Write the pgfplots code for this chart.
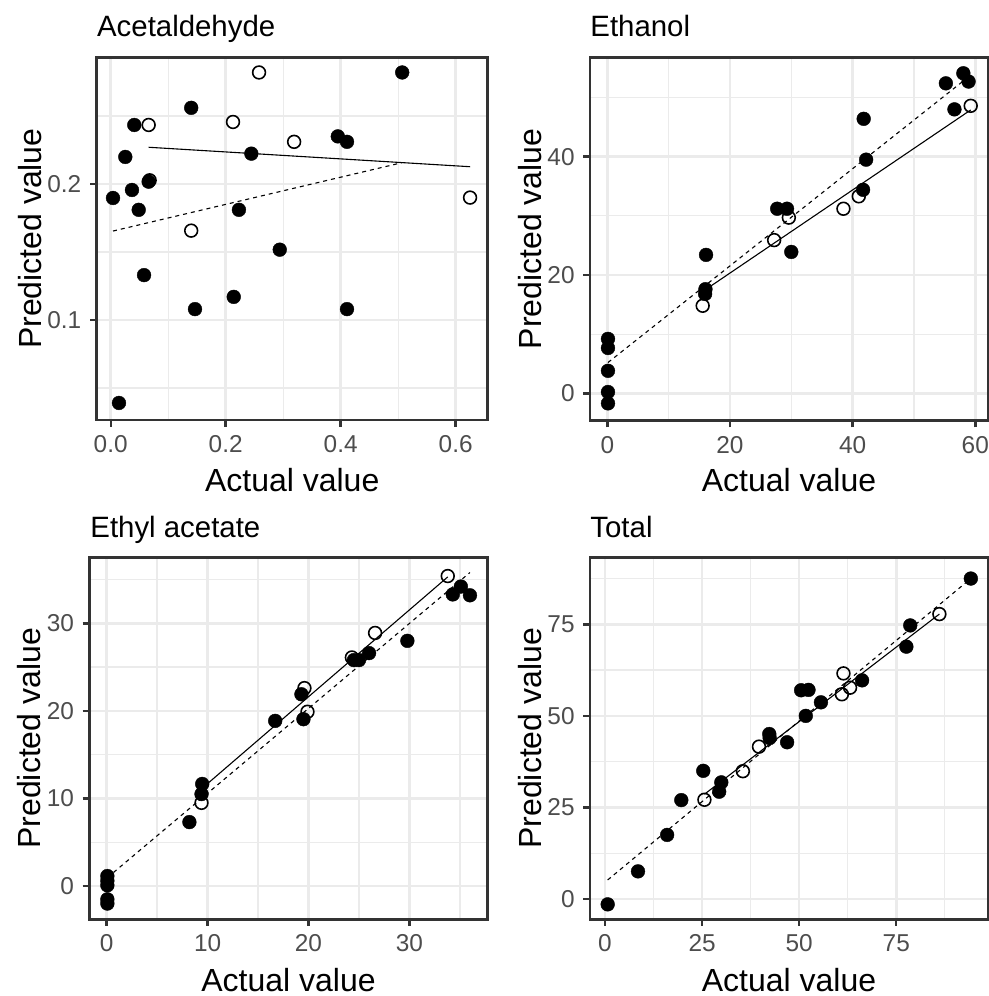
\documentclass[border=0pt]{standalone}
\usepackage{fontspec}
\setmainfont{Liberation Sans}
\usepackage{pgfplots}
\pgfplotsset{compat=1.18}

\definecolor{frame}{HTML}{333333}
\definecolor{gridc}{HTML}{EBEBEB}
\definecolor{tickc}{HTML}{4D4D4D}

\pgfplotsset{
  panel/.style={
    scale only axis,
    axis line style={draw=frame, line width=1.3pt},
    tick align=outside,
    major tick length=3.3pt,
    minor tick length=0pt,
    every tick/.style={draw=frame, line width=1.2pt},
    xtick pos=bottom, ytick pos=left,
    grid=both,
    major grid style={draw=gridc, line width=1.3pt},
    minor grid style={draw=gridc, line width=0.65pt},
    ticklabel style={font=\fontsize{12.2}{14}\selectfont, text=tickc, inner sep=0pt},
    xticklabel style={anchor=north},
    yticklabel style={anchor=east},
    xticklabel shift=4.2pt,
    yticklabel shift=4.2pt,
    /pgf/number format/assume math mode=true,
  },
  train/.style={only marks, mark=*, mark size=3.45pt, mark options={fill=black, draw=black, line width=0.2pt}},
  test/.style={only marks, mark=o, mark size=3.2pt, mark options={draw=black, line width=0.8pt}},
  fitA/.style={no marks, black, line width=0.55pt},
  fitB/.style={no marks, black, line width=0.55pt, dash pattern=on 2pt off 2pt},
}

\newcommand{\ttl}[1]{\fontsize{14.7}{17}\selectfont #1}
\newcommand{\lbl}[1]{\fontsize{16}{19}\selectfont #1}

\begin{document}
\begin{tikzpicture}
\useasboundingbox (0,0) rectangle (494.5pt,498pt);

% Acetaldehyde
\begin{axis}[panel, at={(48.35pt,288pt)}, anchor=south west,
  width=195.5pt, height=181.35pt,
  xmin=-0.02435, xmax=0.6557, ymin=0.02647, ymax=0.29316,
  xtick={0,0.2,0.4,0.6}, xticklabels={0.0,0.2,0.4,0.6},
  minor xtick={0.1,0.3,0.5},
  ytick={0.1,0.2}, yticklabels={0.1,0.2},
  minor ytick={0.05,0.15,0.25}]
\addplot[train] coordinates {
 (0.507,0.282) (0.140,0.256) (0.041,0.2434) (0.395,0.235) (0.411,0.231)
 (0.2446,0.2223) (0.0254,0.2199) (0.066,0.2017) (0.037,0.1956) (0.004,0.1897)
 (0.0487,0.181) (0.223,0.181) (0.294,0.1517) (0.058,0.133) (0.214,0.117)
 (0.1466,0.108) (0.411,0.108) (0.0144,0.039)};
\addplot[test] coordinates {
 (0.258,0.282) (0.066,0.2434) (0.2127,0.2456) (0.319,0.231) (0.0677,0.2027)
 (0.140,0.1657) (0.625,0.190)};
\addplot[fitA] coordinates {(0.066,0.227) (0.625,0.2127)};
\addplot[fitB] coordinates {(0.004,0.1654) (0.507,0.2157)};
\end{axis}

% Ethanol
\begin{axis}[panel, at={(295pt,287.65pt)}, anchor=south west,
  width=199.15pt, height=181.7pt,
  xmin=-2.82, xmax=62.12, ymin=-4.63, ymax=56.8,
  xtick={0,20,40,60}, minor xtick={10,30,50},
  ytick={0,20,40}, minor ytick={10,30,50}]
\addplot[train] coordinates {
 (58.05,54.1) (55.2,52.4) (58.9,52.7) (56.6,48.0) (41.8,46.4) (42.2,39.5)
 (41.7,34.4) (27.7,31.2) (29.3,31.2) (30.0,23.9) (16.1,23.4) (16.0,17.6)
 (15.95,16.8) (0.11,9.2) (0.11,7.66) (0.11,3.8) (0.11,0.22) (0.11,-1.7)};
\addplot[test] coordinates {
 (59.25,48.6) (41.0,33.3) (38.5,31.2) (29.6,29.7) (27.2,25.9) (15.55,14.8)};
\addplot[fitA] coordinates {(15.55,17.2) (59.25,47.9)};
\addplot[fitB] coordinates {(0.11,5.2) (58.9,53.5)};
\end{axis}

% Ethyl acetate
\begin{axis}[panel, at={(44.65pt,38.35pt)}, anchor=south west,
  width=199.2pt, height=181pt,
  xmin=-1.72, xmax=37.76, ymin=-3.80, ymax=37.54,
  xtick={0,10,20,30}, minor xtick={5,15,25,35},
  ytick={0,10,20,30}, minor ytick={5,15,25,35}]
\addplot[train] coordinates {
 (35.1,34.2) (34.3,33.3) (36.0,33.2) (29.8,28.0) (26.0,26.6) (24.5,25.8)
 (25.0,25.8) (19.3,21.9) (19.5,19.05) (16.7,18.86) (9.47,11.66) (9.4,10.5)
 (8.2,7.3) (0.07,1.14) (0.07,0.6) (0.07,0.08) (0.07,-1.52) (0.07,-2.0)};
\addplot[test] coordinates {
 (33.8,35.4) (26.6,28.9) (24.3,26.1) (19.6,22.6) (19.9,19.9) (9.4,9.5)};
\addplot[fitA] coordinates {(9.4,11.1) (33.8,35.3)};
\addplot[fitB] coordinates {(0.07,0.96) (36.0,35.8)};
\end{axis}

% Total
\begin{axis}[panel, at={(295pt,38.35pt)}, anchor=south west,
  width=199.15pt, height=181pt,
  xmin=-3.86, xmax=98.7, ymin=-5.54, ymax=93.3,
  xtick={0,25,50,75}, minor xtick={12.5,37.5,62.5,87.5},
  ytick={0,25,50,75}, minor ytick={12.5,37.5,62.5,87.5}]
\addplot[train] coordinates {
 (94.2,87.5) (78.6,74.7) (77.6,68.9) (66.2,59.7) (55.6,53.7) (50.5,57.0)
 (52.4,57.1) (51.7,50.0) (42.3,45.05) (42.4,43.95) (46.9,42.8) (29.95,31.85)
 (29.4,29.3) (25.3,35.0) (19.65,27.0) (16.0,17.5) (8.5,7.55) (0.69,-1.46)};
\addplot[test] coordinates {
 (86.1,77.8) (61.4,61.6) (63.1,57.7) (61.0,55.9) (39.65,41.6) (35.5,34.9)
 (25.6,27.1)};
\addplot[fitA] coordinates {(25.6,28.6) (86.1,77.8)};
\addplot[fitB] coordinates {(0.69,5.2) (94.2,87.5)};
\end{axis}

% titles
\node[anchor=base west, inner sep=0pt] at (48.35pt,479.65pt) {\ttl{Acetaldehyde}};
\node[anchor=base west, inner sep=0pt] at (295pt,479.65pt) {\ttl{Ethanol}};
\node[anchor=base west, inner sep=0pt] at (45pt,229.15pt) {\ttl{Ethyl acetate}};
\node[anchor=base west, inner sep=0pt] at (295pt,229.15pt) {\ttl{Total}};

% axis labels
\node[anchor=base, inner sep=0pt] at (146.1pt,252.15pt) {\lbl{Actual value}};
\node[anchor=base, inner sep=0pt] at (394.5pt,252.4pt) {\lbl{Actual value}};
\node[anchor=base, inner sep=0pt] at (144.25pt,2.2pt) {\lbl{Actual value}};
\node[anchor=base, inner sep=0pt] at (394.5pt,2.2pt) {\lbl{Actual value}};
\node[anchor=base, inner sep=0pt, rotate=90] at (20.85pt,378.65pt) {\lbl{Predicted value}};
\node[anchor=base, inner sep=0pt, rotate=90] at (270.85pt,378.5pt) {\lbl{Predicted value}};
\node[anchor=base, inner sep=0pt, rotate=90] at (20.5pt,128.85pt) {\lbl{Predicted value}};
\node[anchor=base, inner sep=0pt, rotate=90] at (270.85pt,128.85pt) {\lbl{Predicted value}};
\end{tikzpicture}
\end{document}
